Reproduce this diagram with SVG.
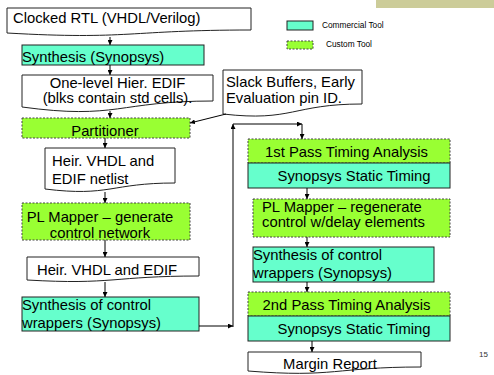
<svg xmlns="http://www.w3.org/2000/svg" width="494" height="375" viewBox="0 0 494 375">
<defs>
<marker id="ah" viewBox="0 0 10 10" refX="10" refY="5" markerWidth="5" markerHeight="5" orient="auto" markerUnits="userSpaceOnUse">
<path d="M0,0 L10,5 L0,10 Z" fill="#000"/>
</marker>
<linearGradient id="bar" x1="0" y1="0" x2="1" y2="0">
<stop offset="0" stop-color="#c8c8e0"/>
<stop offset="0.3" stop-color="#8c8cb4"/>
<stop offset="1" stop-color="#8080a8"/>
</linearGradient>
</defs>
<style>
text{font-family:"Liberation Sans",Arial,sans-serif;font-size:14.8px;fill:#000}
.c{text-anchor:middle}
.doc{fill:#fff;stroke:#222;stroke-width:1}
.com{fill:#66ffcc;stroke:#222;stroke-width:1}
.cus{fill:#99ff33;stroke:#444;stroke-width:1;stroke-dasharray:2,1.5}
.leg{font-size:8.3px}
.pg{font-size:8px;fill:#333}
#connectors line{stroke:#000;stroke-width:1;fill:none;marker-end:url(#ah)}
</style>
<rect x="0" y="0" width="494" height="375" fill="#fff"/>
<rect x="376" y="0" width="118" height="8" fill="#cccc99"/>
<line x1="0" y1="5" x2="494" y2="5" stroke="url(#bar)" stroke-width="1.6"/>

<g id="legend">
<rect x="287" y="21" width="26" height="9" class="com"/>
<text x="322" y="27.5" class="leg">Commercial Tool</text>
<rect x="287" y="41" width="26" height="8" class="cus"/>
<text x="326" y="47" class="leg">Custom Tool</text>
</g>

<g id="n_rtl">
<path class="doc" d="M7,8 H251 V30 C129,30 129,40 7,33 Z"/>
<text x="13" y="23">Clocked RTL (VHDL/Verilog)</text>
</g>
<g id="n_synth">
<rect class="com" x="22" y="45" width="182" height="20"/>
<text x="22" y="62">Synthesis (Synopsys)</text>
</g>
<g id="n_edif">
<path class="doc" d="M22,75 H213 V101 C117.5,101 117.5,120 22,107 Z"/>
<text x="117.5" y="87.5" class="c">One-level Hier. EDIF</text>
<text x="117.5" y="102.5" class="c">(blks contain std cells).</text>
</g>
<g id="n_slack">
<path class="doc" d="M223,70 H362 V104 C292.5,104 292.5,122 223,114 Z"/>
<text x="226" y="87">Slack Buffers, Early</text>
<text x="226" y="103">Evaluation pin ID.</text>
</g>
<g id="n_part">
<rect class="cus" x="22" y="118" width="168" height="20"/>
<text x="105" y="136" class="c">Partitioner</text>
</g>
<g id="n_heir1">
<path class="doc" d="M45,148 H175 V183 C110,183 110,197 45,189 Z"/>
<text x="52" y="166">Heir. VHDL and</text>
<text x="52" y="184">EDIF netlist</text>
</g>
<g id="n_plmap">
<rect class="cus" x="22" y="203" width="168" height="37"/>
<text x="100" y="222" class="c">PL Mapper – generate</text>
<text x="100" y="237.5" class="c">control network</text>
</g>
<g id="n_heir2">
<path class="doc" d="M27,257 H199 V276 C113,276 113,285 27,280 Z"/>
<text x="107" y="275" class="c">Heir. VHDL and EDIF</text>
</g>
<g id="n_synctl">
<rect class="com" x="22" y="297" width="177" height="34"/>
<text x="22" y="309.5">Synthesis of control</text>
<text x="22" y="327.5">wrappers (Synopsys)</text>
</g>
<g id="n_pass1">
<rect class="cus" x="248" y="139" width="202" height="24"/>
<text x="346.5" y="156.5" class="c">1st Pass Timing Analysis</text>
</g>
<g id="n_sta1">
<rect class="com" x="248" y="163" width="202" height="25"/>
<text x="354" y="181" class="c">Synopsys Static Timing</text>
</g>
<g id="n_plmap2">
<rect class="cus" x="253" y="199" width="197" height="38"/>
<text x="262" y="211.5">PL Mapper  – regenerate</text>
<text x="262" y="227">control w/delay elements</text>
</g>
<g id="n_synctl2">
<rect class="com" x="253" y="247" width="181" height="35"/>
<text x="253" y="259.5">Synthesis of control</text>
<text x="253" y="278">wrappers (Synopsys)</text>
</g>
<g id="n_pass2">
<rect class="cus" x="248" y="292" width="202" height="24"/>
<text x="346.5" y="310" class="c">2nd Pass Timing Analysis</text>
</g>
<g id="n_sta2">
<rect class="com" x="248" y="316" width="202" height="25"/>
<text x="354" y="333.5" class="c">Synopsys Static Timing</text>
</g>
<g id="n_margin">
<path class="doc" d="M248,352 H421 V367 C334.5,367 334.5,378 248,371 Z"/>
<text x="330" y="368.5" class="c">Margin Report</text>
</g>

<text x="479" y="357" class="pg">15</text>

<g id="connectors">
<line x1="110" y1="37" x2="110" y2="45"/>
<line x1="110" y1="65" x2="110" y2="75"/>
<line x1="110" y1="111" x2="110" y2="118"/>
<line x1="226" y1="114" x2="190" y2="123"/>
<line x1="105" y1="138" x2="105" y2="148"/>
<line x1="105" y1="192" x2="105" y2="203"/>
<line x1="105" y1="240" x2="105" y2="257"/>
<line x1="105" y1="282" x2="105" y2="297"/>
<line x1="199" y1="326" x2="233" y2="326"/>
<line x1="233" y1="327" x2="233" y2="124"/>
<line x1="233" y1="124" x2="302" y2="124"/>
<line x1="302" y1="124" x2="302" y2="139"/>
<line x1="307" y1="188" x2="307" y2="199"/>
<line x1="307" y1="237" x2="307" y2="247"/>
<line x1="307" y1="282" x2="307" y2="292"/>
<line x1="312" y1="341" x2="312" y2="352"/>
</g>
</svg>
